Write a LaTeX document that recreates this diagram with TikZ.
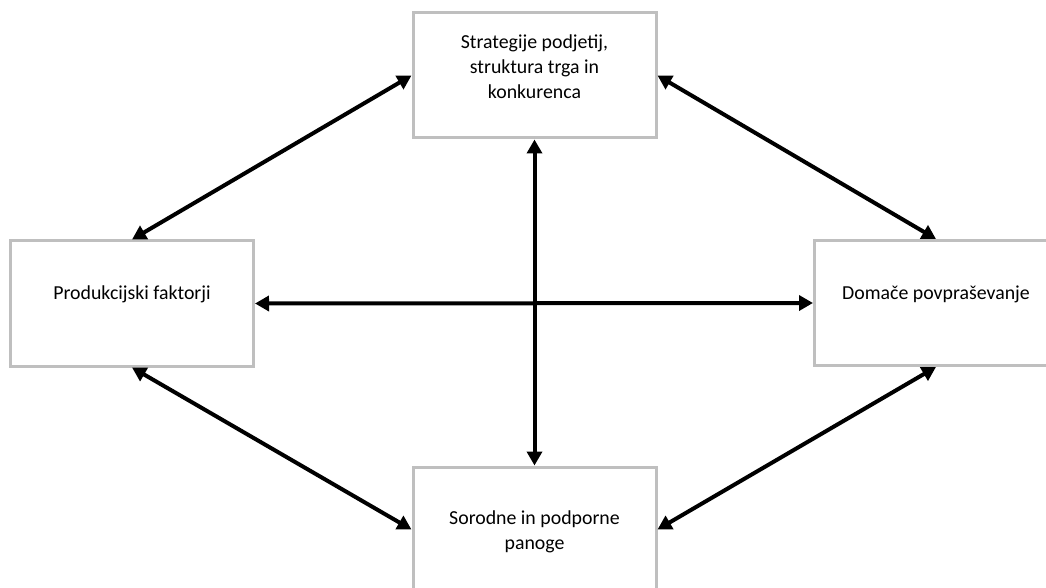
\documentclass[tikz,border=0pt]{standalone}
\usepackage{fontspec}
\setmainfont{Carlito}
\usetikzlibrary{arrows.meta}
\definecolor{boxgray}{HTML}{BFBFBF}

\begin{document}
\begin{tikzpicture}[x=1bp,y=-1bp,
	box/.style={draw=boxgray,line width=3bp,fill=white,minimum width=243bp,minimum height=125bp,inner sep=0pt},
	txt/.style={align=center,font=\fontsize{19.9}{25}\selectfont,inner sep=0pt},
	link/.style={{Triangle[length=14bp,width=15bp]}-{Triangle[length=14bp,width=15bp]},line width=4bp}]
\useasboundingbox (0,0) rectangle (1046,588);
% boxes
\node [box] (strat) at (534.5,75.5) {};
\node [box] (prod) at (132,303.5) {};
\node [box] (dom) at (936,303) {};
\node [box] (sor) at (534.5,529.5) {};
% texts
\node [txt] (strat-t) at (534.5,67) {Strategije podjetij,\\struktura trga in\\konkurenca};
\node [txt] (prod-t) at (132,294) {Produkcijski faktorji};
\node [txt] (dom-t) at (936,294) {Domače povpraševanje};
\node [txt] (sor-t) at (534.5,532) {Sorodne in podporne\\panoge};
% arrows
\draw [link] (prod.north) -- (strat.west);
\draw [link] (strat.east) -- (dom.north);
\draw [link] (prod.east) -- (dom.west);
\draw [link] (strat.south) -- (sor.north);
\draw [link] (prod.south) -- (sor.west);
\draw [link] (sor.east) -- (dom.south);
\end{tikzpicture}
\end{document}
